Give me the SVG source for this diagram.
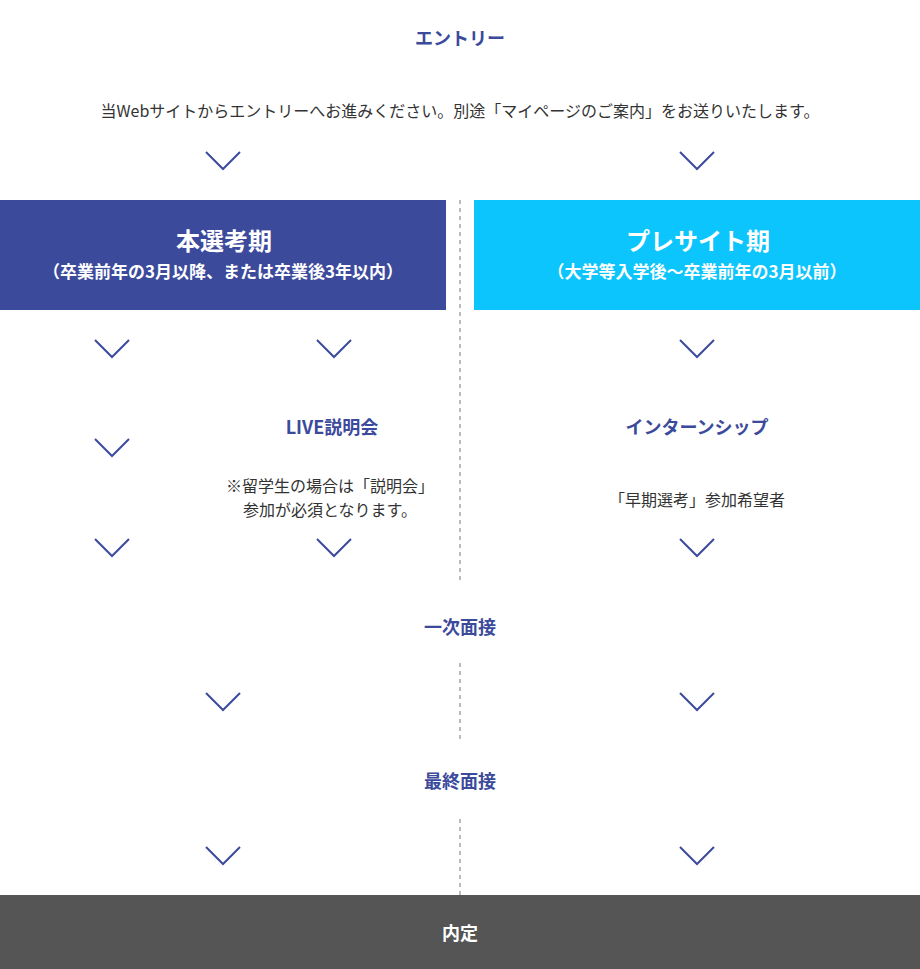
<svg xmlns="http://www.w3.org/2000/svg" width="920" height="969" viewBox="0 0 920 969">
<defs>
<style>
text{font-family:"Noto Sans CJK JP","Noto Sans",sans-serif;text-anchor:middle}
.h{font-size:18px;font-weight:bold;fill:#3c4a9c}
.b{font-size:16px;fill:#333}
.t{font-size:24px;font-weight:bold;fill:#fff}
.s{font-size:17px;font-weight:bold;fill:#fff}
.chev{fill:none;stroke:#3c4a9c;stroke-width:2}
.dash{stroke:#bbb;stroke-width:2;stroke-dasharray:4 4}
</style>
<path id="cv" class="chev" d="M-17,0 L0,17 L17,0"/>
</defs>
<rect width="920" height="969" fill="#fff"/>
<g id="connectors">
<line class="dash" x1="460" y1="200" x2="460" y2="584"/>
<line class="dash" x1="460" y1="663" x2="460" y2="743"/>
<line class="dash" x1="460" y1="819" x2="460" y2="895"/>
<use href="#cv" x="223" y="152"/>
<use href="#cv" x="697" y="152"/>
<use href="#cv" x="112" y="340"/>
<use href="#cv" x="334" y="340"/>
<use href="#cv" x="697" y="340"/>
<use href="#cv" x="112" y="439"/>
<use href="#cv" x="112" y="539"/>
<use href="#cv" x="334" y="539"/>
<use href="#cv" x="697" y="539"/>
<use href="#cv" x="223" y="693"/>
<use href="#cv" x="697" y="693"/>
<use href="#cv" x="223" y="847"/>
<use href="#cv" x="697" y="847"/>
</g>
<g id="entry">
<text class="h" x="460" y="45">エントリー</text>
<text class="b" x="460" y="117">当Webサイトからエントリーへお進みください。別途「マイページのご案内」をお送りいたします。</text>
</g>
<g id="honsenko">
<rect x="0" y="200" width="446" height="110" fill="#3c4a9c"/>
<text class="t" x="224" y="250">本選考期</text>
<text class="s" x="223" y="278">（卒業前年の3月以降、または卒業後3年以内）</text>
</g>
<g id="presite">
<rect x="474" y="200" width="446" height="110" fill="#0cc5fc"/>
<text class="t" x="698" y="250">プレサイト期</text>
<text class="s" x="697" y="278">（大学等入学後～卒業前年の3月以前）</text>
</g>
<g id="live">
<text class="h" x="332" y="434">LIVE説明会</text>
<text class="b" x="330" y="492">※留学生の場合は「説明会」</text>
<text class="b" x="330" y="516">参加が必須となります。</text>
</g>
<g id="intern">
<text class="h" x="697" y="434">インターンシップ</text>
<text class="b" x="697" y="506">「早期選考」参加希望者</text>
</g>
<g id="interview1">
<text class="h" x="460" y="634">一次面接</text>
</g>
<g id="interview2">
<text class="h" x="460" y="788">最終面接</text>
</g>
<g id="naitei">
<rect x="0" y="895" width="920" height="74" fill="#555"/>
<text class="h" x="460" y="940" style="fill:#fff">内定</text>
</g>
</svg>
